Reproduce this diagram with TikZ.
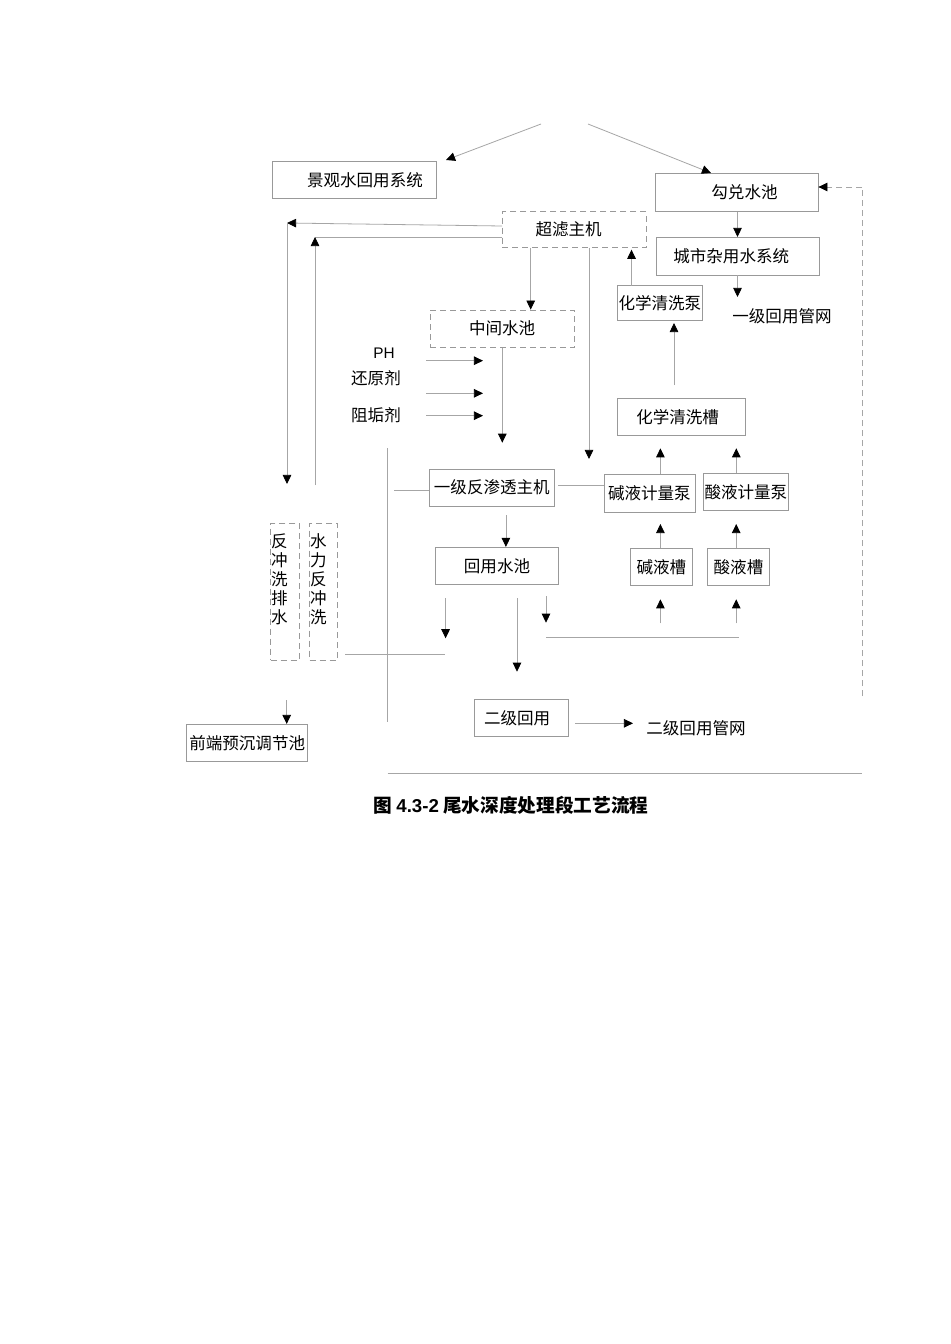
\documentclass[tikz,border=0pt]{standalone}
\usepackage{fontspec}
\setmainfont{Noto Sans CJK SC}
\newfontfamily\latinsans{Liberation Sans}
\usetikzlibrary{arrows.meta}
\begin{document}
\begin{tikzpicture}[x=0.75pt,y=-0.75pt,
  ln/.style={draw=black!35, line width=0.6pt},
  ar/.style={ln, -{Triangle[length=6.8pt,width=6.4pt,color=black]}},
  box/.style={draw=black!40, line width=0.6pt, inner sep=0pt, font=\fontsize{12.4}{14}\selectfont},
  dbox/.style={box, dash pattern=on 4.5pt off 3pt},
  sz/.style 2 args={minimum width=#1*0.75pt, minimum height=#2*0.75pt},
  txt/.style={inner sep=0pt, font=\fontsize{12.4}{14.25}\selectfont}]
\useasboundingbox[fill=white] (0,0) rectangle (950,1344);

% boxes
\node[box,sz={163.4}{36.6}] (jg) at (354.3,180) {\hspace*{16pt}景观水回用系统};
\node[box,sz={163}{37.5}] (gd) at (736.5,192.5) {\hspace*{12pt}勾兑水池};
\node[dbox,sz={144}{36}] (cl) at (574,229.7) {超滤主机\hspace*{8pt}};
\node[box,sz={163}{37.7}] (cs) at (737.9,256.2) {城市杂用水系统\hspace*{10pt}};
\node[box,sz={84.3}{35}] (hb) at (659.9,303.2) {化学清洗泵};
\node[dbox,sz={144.2}{37.3}] (zj) at (502.1,328.7) {中间水池};
\node[box,sz={127.7}{37.4}] (hc) at (681.6,417) {化学清洗槽\hspace*{6pt}};
\node[box,sz={125.5}{36.7}] (fs) at (491.8,487.7) {一级反渗透主机};
\node[box,sz={91}{38.3}] (jb) at (649.4,493.2) {碱液计量泵};
\node[box,sz={85.8}{37.4}] (sb) at (745.9,492) {酸液计量泵};
\node[box,sz={123.2}{37}] (hy) at (497,565.8) {回用水池};
\node[box,sz={62.5}{37.4}] (jc) at (661.3,567) {碱液槽};
\node[box,sz={61.6}{37.4}] (sc) at (738.5,567) {酸液槽};
\node[dbox,sz={29}{136.7}] (fp) at (285.1,591.7) {};
\node[dbox,sz={28}{136.7}] (sl) at (323.5,591.7) {};
\node[txt,align=center,anchor=north] (fpt) at (279.5,533) {反\\冲\\洗\\排\\水};
\node[txt,align=center,anchor=north] (slt) at (318.4,533) {水\\力\\反\\冲\\洗};
\node[box,sz={121}{36.7}] (qd) at (247.2,742.7) {前端预沉调节池};
\node[box,sz={94.4}{37.4}] (ej) at (521.2,718) {二级回用\hspace*{6pt}};

% free texts
\node[inner sep=0pt,font=\latinsans\fontsize{11.5}{13}\selectfont] (ph) at (384,353) {PH};
\node[txt] (hyj) at (376,378) {还原剂};
\node[txt] (zgj) at (376,415) {阻垢剂};
\node[txt] (yjgw) at (782,316) {一级回用管网};
\node[txt] (ejgw) at (696,728) {二级回用管网};
\node[inner sep=0pt,font=\bfseries\fontsize{14}{16}\selectfont] (cap) at (511,805) {图 {\latinsans 4.3-2} 尾水深度处理段工艺流程};

% free coordinates
\coordinate (t1) at (541,124);
\coordinate (t1e) at (446,160);
\coordinate (t2) at (588,124);
\coordinate (t2e) at (711,173);
\coordinate (d1) at (862,696);
\coordinate (d2) at (862,187);
\coordinate (c1) at (502,226);
\coordinate (c1e) at (287,223);
\coordinate (c1d) at (287,484);
\coordinate (c2) at (502,237);
\coordinate (c2e) at (315,237);
\coordinate (c2d) at (315,485);
\coordinate (cla) at (530.7,247.7);
\coordinate (clb) at (589,247.7);
\coordinate (clbe) at (589,459);
\coordinate (hbt) at (631.5,285.7);
\coordinate (cse) at (737.5,297);
\coordinate (hcs) at (674,385);
\coordinate (hce) at (674,323);
\coordinate (r1) at (426,360.7);
\coordinate (r1e) at (483,360.7);
\coordinate (r2) at (426,393.3);
\coordinate (r2e) at (483,393.3);
\coordinate (r3) at (426,415.7);
\coordinate (r3e) at (483,415.7);
\coordinate (zje) at (502.3,442.7);
\coordinate (v1) at (387.3,448.3);
\coordinate (v1e) at (387.3,722);
\coordinate (fl) at (394,490.7);
\coordinate (fr) at (558.4,485);
\coordinate (jbe) at (660.4,448.3);
\coordinate (sbe) at (736.3,448.3);
\coordinate (fsb) at (505.9,515);
\coordinate (jce) at (660.4,524);
\coordinate (sce) at (736.2,524);
\coordinate (u1) at (660.4,623.3);
\coordinate (u1e) at (660.4,599.3);
\coordinate (u2) at (736.2,623.3);
\coordinate (u2e) at (736.2,599.3);
\coordinate (h1) at (546,637.7);
\coordinate (h1e) at (739,637.7);
\coordinate (a1) at (546,596);
\coordinate (a1e) at (546,622.7);
\coordinate (a2) at (445.6,598.3);
\coordinate (a2e) at (445.6,638.3);
\coordinate (h2) at (345,654);
\coordinate (h2e) at (444.7,654);
\coordinate (a3) at (517,598.3);
\coordinate (a3e) at (517,671.7);
\coordinate (fpb) at (286.7,700);
\coordinate (ejr) at (575,723.3);
\coordinate (ejre) at (633,723.3);
\coordinate (b1) at (387.6,773.3);
\coordinate (b1e) at (862,773.3);

% connectors
\draw[ar] (t1) -- (t1e);
\draw[ar] (t2) -- (t2e);
\draw[ln,dash pattern=on 4.5pt off 3pt] (d1) -- (d2);
\draw[ar,dash pattern=on 4.5pt off 3pt] (d2) -- (gd.east |- d2);
\draw[ar] (c1) -- (c1e);
\draw[ar] (c1e) -- (c1d);
\draw[ln] (c2) -- (c2e);
\draw[ar] (c2d) -- (c2e);
\draw[ar] (cla) -- (zj.north -| cla);
\draw[ar] (clb) -- (clbe);
\draw[ar] (hbt) -- ([yshift=-1.2pt]cl.south -| hbt);
\draw[ar] (gd.south -| cse) -- (cs.north -| cse);
\draw[ar] (cs.south -| cse) -- (cse);
\draw[ar] (hcs) -- (hce);
\draw[ar] (r1) -- (r1e);
\draw[ar] (r2) -- (r2e);
\draw[ar] (r3) -- (r3e);
\draw[ar] (zj.south -| zje) -- (zje);
\draw[ln] (v1) -- (v1e);
\draw[ln] (fl) -- (fs.west |- fl);
\draw[ln] (fr) -- (jb.west |- fr);
\draw[ar] (jb.north -| jbe) -- (jbe);
\draw[ar] (sb.north -| sbe) -- (sbe);
\draw[ar] (fsb) -- (hy.north -| fsb);
\draw[ar] (jc.north -| jce) -- (jce);
\draw[ar] (sc.north -| sce) -- (sce);
\draw[ar] (u1) -- (u1e);
\draw[ar] (u2) -- (u2e);
\draw[ln] (h1) -- (h1e);
\draw[ar] (a1) -- (a1e);
\draw[ar] (a2) -- (a2e);
\draw[ln] (h2) -- (h2e);
\draw[ar] (a3) -- (a3e);
\draw[ar] (fpb) -- (qd.north -| fpb);
\draw[ar] (ejr) -- (ejre);
\draw[ln] (b1) -- (b1e);
\end{tikzpicture}
\end{document}
